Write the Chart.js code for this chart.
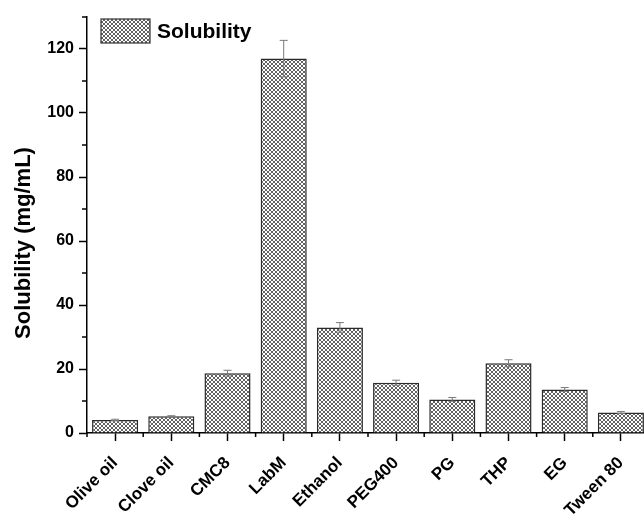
<!DOCTYPE html>
<html>
<head>
<meta charset="utf-8">
<script src="https://cdn.jsdelivr.net/npm/chart.js"></script>
<style>
html,body{margin:0;padding:0;background:#fff;overflow:hidden;}
#wrap{width:650px;height:514px;position:relative;}
</style>
</head>
<body>
<div id="wrap"><canvas id="c" width="650" height="514"></canvas></div>
<script>
const categories = ['Olive oil','Clove oil','CMC8','LabM','Ethanol','PEG400','PG','THP','EG','Tween 80'];
const solubility = [4.1, 5.2, 18.7, 117.0, 33.0, 15.7, 10.5, 21.8, 13.6, 6.4];
const solubilityErr = [0.2, 0.2, 0.9, 5.7, 1.5, 0.8, 0.6, 1.1, 0.6, 0.3];
const seriesLabel = 'Solubility';
const yTitle = 'Solubility (mg/mL)';
const FONT = "'Liberation Sans', Arial, sans-serif";

function makePattern(){
  const t = document.createElement('canvas');
  t.width = 4; t.height = 4;
  const g = t.getContext('2d');
  g.fillStyle = '#ffffff';
  g.fillRect(0,0,4,4);
  g.strokeStyle = '#3a3a3a';
  g.lineWidth = 0.8;
  g.beginPath();
  g.moveTo(0,0); g.lineTo(4,4);
  g.moveTo(0,4); g.lineTo(4,0);
  g.stroke();
  return document.getElementById('c').getContext('2d').createPattern(t,'repeat');
}
const hatch = makePattern();

const extras = {
  id: 'extras',
  afterDatasetsDraw(chart){
    const ctx = chart.ctx;
    const y = chart.scales.y;
    const meta = chart.getDatasetMeta(0);
    ctx.save();
    ctx.strokeStyle = '#7a7a7a';
    ctx.lineWidth = 1;
    meta.data.forEach((bar,i)=>{
      const v = solubility[i], e = solubilityErr[i];
      const yt = y.getPixelForValue(v+e), yb = y.getPixelForValue(v-e);
      const x = bar.x, cap = 4;
      ctx.beginPath();
      ctx.moveTo(x, yt); ctx.lineTo(x, yb);
      ctx.moveTo(x-cap, yt); ctx.lineTo(x+cap, yt);
      ctx.moveTo(x-cap, yb); ctx.lineTo(x+cap, yb);
      ctx.stroke();
    });
    ctx.restore();
  },
  afterDraw(chart){
    const ctx = chart.ctx;
    const y = chart.scales.y, x = chart.scales.x;
    const ca = chart.chartArea;
    ctx.save();
    ctx.strokeStyle = '#000';
    ctx.lineWidth = 1.5;
    // y minor ticks
    for(let v=10; v<=130; v+=20){
      const py = y.getPixelForValue(v);
      ctx.beginPath(); ctx.moveTo(ca.left-5, py); ctx.lineTo(ca.left, py); ctx.stroke();
    }
    // x minor ticks at category boundaries
    for(let i=0;i<=categories.length;i++){
      const px = x.getPixelForValue(i-0.5);
      ctx.beginPath(); ctx.moveTo(px, ca.bottom); ctx.lineTo(px, ca.bottom+4); ctx.stroke();
    }
    // y title
    ctx.save();
    ctx.translate(24, 243);
    ctx.rotate(-Math.PI/2);
    ctx.fillStyle = '#000';
    ctx.font = 'bold 22px ' + FONT;
    ctx.textAlign = 'center';
    ctx.textBaseline = 'middle';
    ctx.fillText(yTitle, 0, 0);
    ctx.restore();
    // legend
    ctx.fillStyle = hatch;
    ctx.fillRect(101,19,49,24);
    ctx.strokeStyle = '#333';
    ctx.lineWidth = 1.2;
    ctx.strokeRect(101,19,49,24);
    ctx.fillStyle = '#000';
    ctx.font = 'bold 21px ' + FONT;
    ctx.textBaseline = 'middle';
    ctx.textAlign = 'left';
    ctx.fillText(seriesLabel, 157, 32);
    ctx.restore();
  }
};

new Chart(document.getElementById('c'), {
  type: 'bar',
  data: {
    labels: categories,
    datasets: [{
      label: seriesLabel,
      data: solubility,
      backgroundColor: hatch,
      borderColor: '#2a2a2a',
      borderWidth: 1.5,
      barPercentage: 0.82,
      categoryPercentage: 1.0
    }]
  },
  options: {
    responsive: false,
    animation: false,
    layout: { padding: { top: 17, right: 1, left: 0, bottom: 0 } },
    plugins: { legend: { display: false }, tooltip: { enabled: false } },
    scales: {
      x: {
        offset: true,
        afterFit(s){ s.height = 81; },
        grid: { display: true, drawOnChartArea: false, offset: false, tickLength: 8, tickWidth: 1.5, tickColor: '#000' },
        border: { display: true, color: '#000', width: 1.5 },
        ticks: { color: '#000', font: { family: FONT, weight: 'bold', size: 17 }, maxRotation: 45, minRotation: 45, padding: 12, labelOffset: 0, autoSkip: false }
      },
      y: {
        min: 0, max: 130,
        afterFit(s){ s.width = 87; },
        afterBuildTicks(s){ s.ticks = [0,20,40,60,80,100,120].map(v=>({value:v})); },
        grid: { display: true, drawOnChartArea: false, tickLength: 8, tickWidth: 1.5, tickColor: '#000' },
        border: { display: true, color: '#000', width: 1.5 },
        title: { display: false },
        ticks: { color: '#000', font: { family: FONT, weight: 'bold', size: 16 }, padding: 5 }
      }
    }
  },
  plugins: [extras]
});
</script>
</body>
</html>
